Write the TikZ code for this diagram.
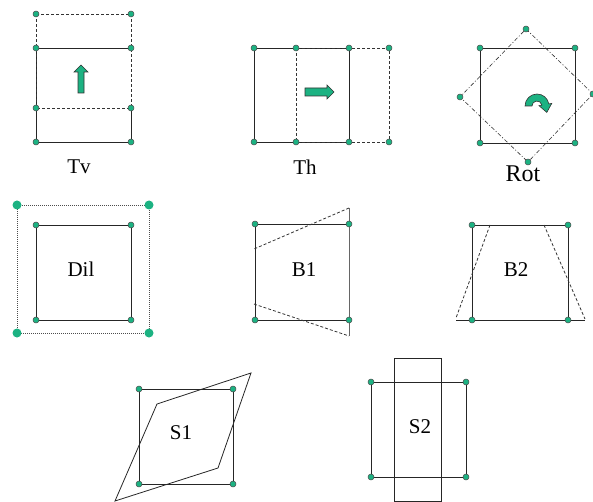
\documentclass[tikz,border=0pt]{standalone}
\usepackage{fontspec}
\setmainfont{Liberation Serif}
\definecolor{dotgreen}{RGB}{28,178,130}
\begin{document}
\begin{tikzpicture}[x=1pt,y=-1pt,line width=0.8pt,
  corner/.style={fill=dotgreen,draw=black!70,line width=0.5pt},
  dashline/.style={black!80,dash pattern=on 3pt off 2pt},
  dotline/.style={black!70,line width=0.6pt,dash pattern=on 1pt off 1pt},
  dashdot/.style={black!80,line width=0.6pt,dash pattern=on 4pt off 2pt on 1pt off 2pt},
  blockarrow/.style={fill=dotgreen,draw=black!80,line width=0.6pt},
  lbl/.style={font=\fontsize{21}{25}\selectfont,inner sep=0pt}]
\useasboundingbox (0,0) rectangle (593,502);
\draw[black!85] (131,108) -- (131,142) -- (36,142) -- (36,48) -- (131,48);
\draw[dashline] (36,14) rectangle (131,108);
\draw[blockarrow] (78,93) -- (78,72) -- (74,72) -- (81,65) -- (88,72) -- (84,72) -- (84,93) -- cycle;
\foreach \p in {(36,14),(131,14),(36,48),(131,48),(36,108),(131,108),(36,142),(131,142)}
  \fill[corner] \p circle (3);
\node[lbl] (tv) at (79,167) {Tv};
\draw[black!85] (254,48) rectangle (349,142);
\draw[dashline] (296,48) rectangle (389,142);
\draw[blockarrow] (305,88) -- (327,88) -- (327,85) -- (334,92) -- (327,99) -- (327,96) -- (305,96) -- cycle;
\foreach \p in {(254,48),(296,48),(349,48),(389,48),(254,142),(296,142),(349,142),(389,142)}
  \fill[corner] \p circle (3);
\node[lbl] (th) at (305,167) {Th};
\draw[black!85] (480,48) rectangle (575,143);
\draw[dashdot] (526,29) -- (593,94) -- (528,162) -- (460,97) -- cycle;
\begin{scope}[shift={(537,106)}]
\draw[blockarrow] (180:12) arc[start angle=180,end angle=350,radius=12] -- (350:15) -- (9.8,6.4) -- (350:2) -- (350:5) arc[start angle=350,end angle=180,radius=5] -- cycle;
\end{scope}
\foreach \p in {(480,48),(575,48),(480,143),(575,143),(526,29),(593,94),(528,162),(460,97)}
  \fill[corner] \p circle (3);
\node[lbl,font=\fontsize{24}{28}\selectfont] (rot) at (523,174) {Rot};
\draw[black!85] (36,225) rectangle (131,320);
\draw[dotline] (17,205) rectangle (149,333);
\foreach \p in {(36,225),(131,225),(36,320),(131,320)}
  \fill[corner] \p circle (3);
\foreach \p in {(17,205),(149,205),(17,333),(149,333)}
  \fill[corner,draw=none] \p circle (4.5);
\node[lbl] (dil) at (81,269) {Dil};
\draw[black!85] (255,224) rectangle (349,320);
\draw[black!60] (349,208) -- (349,336);
\draw[dashline] (349,208) -- (254,249);
\draw[dashline] (254,304) -- (349,336);
\foreach \p in {(255,224),(349,224),(255,320),(349,320)}
  \fill[corner] \p circle (3);
\node[lbl] (bone) at (304,270) {B1};
\draw[black!85] (472,225) rectangle (568,320);
\draw[black!85] (456,320) -- (585,320);
\draw[dashline] (490,225) -- (456,318);
\draw[dashline] (544,225) -- (585,319);
\foreach \p in {(472,225),(568,225),(472,320),(568,320)}
  \fill[corner] \p circle (3);
\node[lbl] (btwo) at (516,270) {B2};
\draw[black!85] (139,389) rectangle (233,484);
\draw[black!85] (251,373) -- (157,404) -- (115,501) -- (218,468) -- cycle;
\foreach \p in {(139,389),(233,389),(139,484),(233,484)}
  \fill[corner] \p circle (3);
\node[lbl] (sone) at (181,433) {S1};
\draw[black!85] (371,382) rectangle (466,477);
\draw[black!85] (394,358) rectangle (441,501);
\foreach \p in {(371,382),(466,382),(371,477),(466,477)}
  \fill[corner] \p circle (3);
\node[lbl] (stwo) at (420,427) {S2};
\end{tikzpicture}
\end{document}
